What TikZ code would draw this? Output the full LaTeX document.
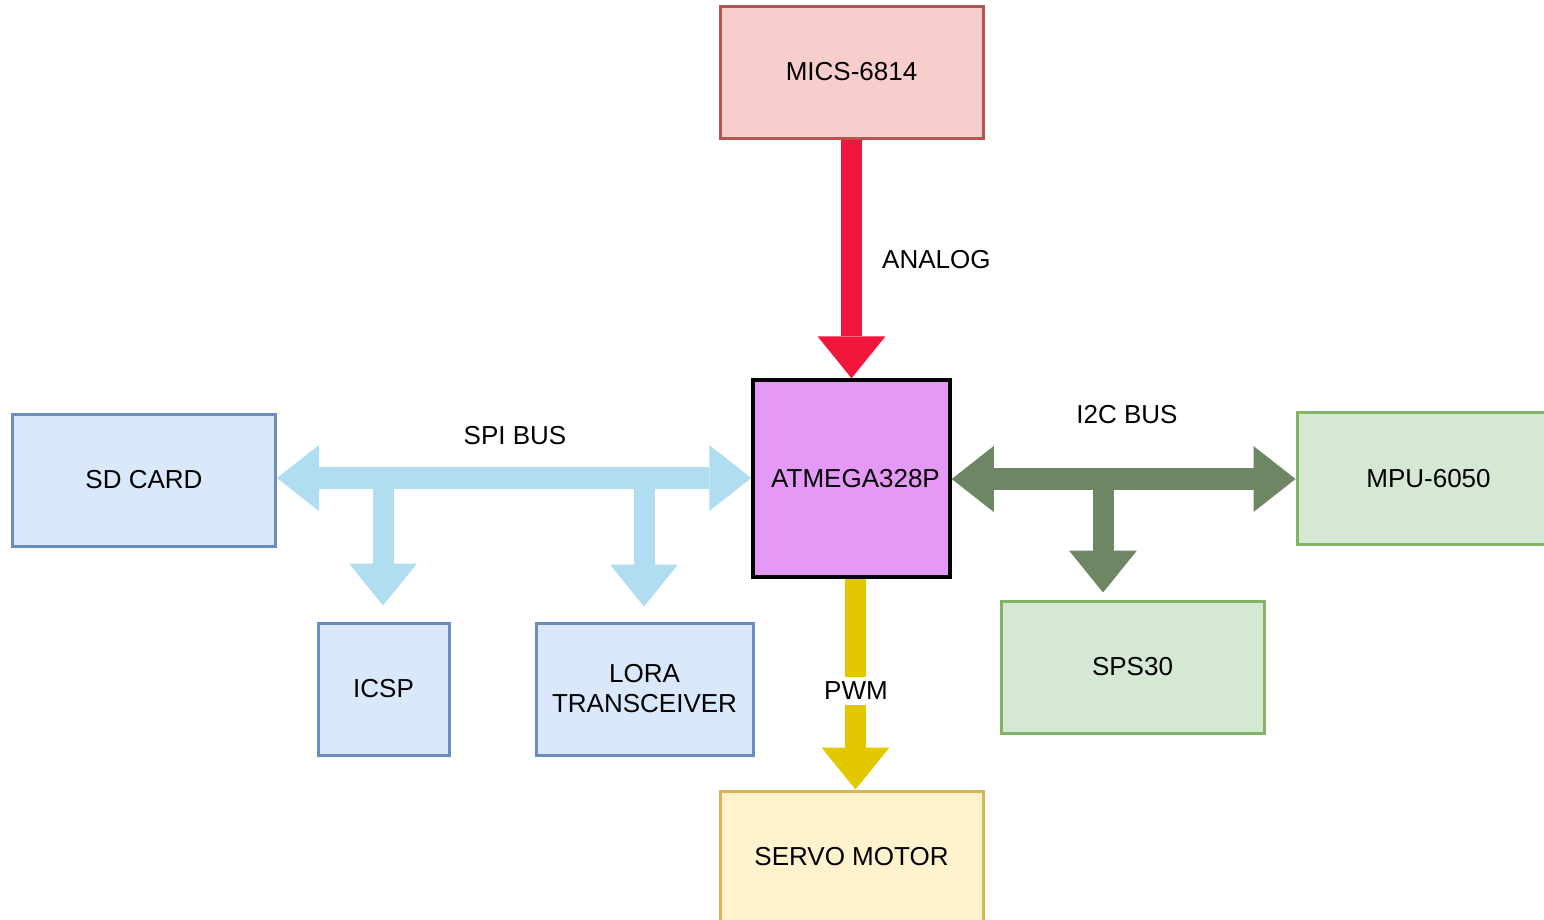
\documentclass[tikz,border=0pt]{standalone}
\usepackage{fontspec}
\setmainfont{Liberation Sans}
\usetikzlibrary{arrows.meta,calc}
\definecolor{redarrow}{RGB}{243,22,60}
\definecolor{bluearrow}{RGB}{177,221,240}
\definecolor{greenarrow}{RGB}{109,135,100}
\definecolor{yellowarrow}{RGB}{227,200,0}
\definecolor{redfill}{RGB}{248,206,204}
\definecolor{redline}{RGB}{184,84,80}
\definecolor{bluefill}{RGB}{218,232,252}
\definecolor{blueline}{RGB}{108,142,191}
\definecolor{greenfill}{RGB}{213,232,212}
\definecolor{greenline}{RGB}{130,179,102}
\definecolor{yelfill}{RGB}{255,242,204}
\definecolor{yelline}{RGB}{214,182,86}
\definecolor{mcufill}{RGB}{229,153,247}
\begin{document}
\begin{tikzpicture}[x=1pt,y=-1pt,
  txt/.style={font=\fontsize{26}{30}\selectfont},
  box/.style={txt, draw, line width=3pt, minimum width=263pt, minimum height=132pt, align=center, inner sep=0pt},
  redbox/.style={box, fill=redfill, draw=redline},
  bluebox/.style={box, fill=bluefill, draw=blueline},
  greenbox/.style={box, fill=greenfill, draw=greenline},
  yelbox/.style={box, fill=yelfill, draw=yelline},
  mcubox/.style={box, fill=mcufill, draw=black, line width=3.5pt, minimum width=197pt, minimum height=197pt},
  lbl/.style={txt, inner sep=2pt},
  fat/.style={line width=21pt, -{Triangle[width=68pt,length=42pt,line width=0pt]}},
  dfat/.style={line width=22pt, {Triangle[width=66pt,length=42pt,line width=0pt]}-{Triangle[width=66pt,length=42pt,line width=0pt]}}
]
\clip (0,0) rectangle (1544,919);
\fill[white] (0,0) rectangle (1544,919);

% nodes
\node[redbox] (mics) at (851.5,72) {MICS-6814};
\node[mcubox] (atm) at (851.5,478.5) {\hspace*{8pt}ATMEGA328P};
\node[bluebox] (sd) at (144,480) {SD CARD};
\node[bluebox, minimum width=131pt] (icsp) at (383.5,689) {ICSP};
\node[bluebox, minimum width=217pt] (lora) at (644.5,689) {LORA\\TRANSCEIVER};
\node[yelbox] (servo) at (851.5,857) {SERVO MOTOR};
\node[greenbox] (sps) at (1132.5,667) {SPS30};
\node[greenbox] (mpu) at (1428.5,478.5) {MPU-6050};

% analog
\draw[fat, redarrow] (mics.south) -- (atm.north);
\node[lbl, anchor=west] (analog) at (880,260) {ANALOG};

% SPI bus
\coordinate (spil) at (sd.east |- 0,478);
\coordinate (spir) at (atm.west |- 0,478);
\draw[dfat, bluearrow] (spil) -- (spir);
\coordinate (spib1) at (383,478);
\coordinate (spib2) at (644,478);
\draw[fat, bluearrow, shorten >=16pt] (spib1) -- (spib1 |- icsp.north);
\draw[fat, bluearrow, shorten >=15pt] (spib2) -- (spib2 |- lora.north);
\node[lbl] (spi) at (515,436) {SPI BUS};

% I2C bus
\coordinate (i2cl) at (atm.east |- 0,479);
\coordinate (i2cr) at (mpu.west |- 0,479);
\draw[dfat, greenarrow] (i2cl) -- (i2cr);
\coordinate (i2cb) at (1103,479);
\draw[fat, greenarrow, shorten >=7pt] (i2cb) -- (i2cb |- sps.north);
\node[lbl] (i2c) at (1127,415) {I2C BUS};

% PWM
\coordinate (pwms) at ($(atm.south)+(4,0)$);
\draw[fat, yellowarrow] (pwms) -- (pwms |- servo.north);
\node[lbl, fill=white, inner xsep=3pt, inner ysep=5pt] (pwm) at (856,691) {PWM};
\end{tikzpicture}
\end{document}
